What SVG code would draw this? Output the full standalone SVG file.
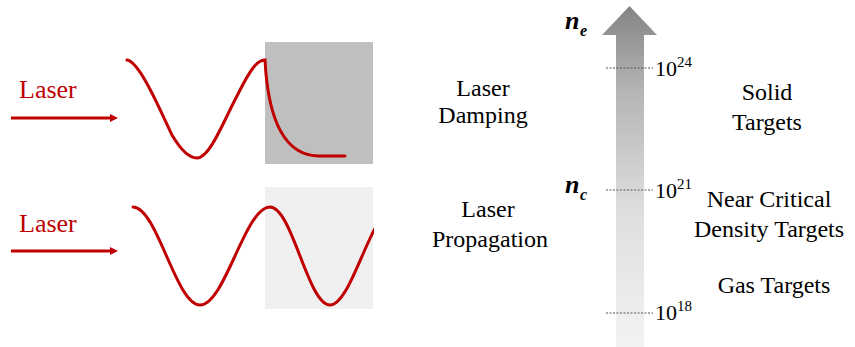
<svg xmlns="http://www.w3.org/2000/svg" width="855" height="347" viewBox="0 0 855 347">
<defs>
  <linearGradient id="g" x1="0" y1="0" x2="0" y2="1">
    <stop offset="0" stop-color="#848484"/>
    <stop offset="0.25" stop-color="#b5b5b5"/>
    <stop offset="0.6" stop-color="#dedede"/>
    <stop offset="1" stop-color="#f3f3f3"/>
  </linearGradient>
  <marker id="ah" markerWidth="8" markerHeight="8" refX="1" refY="4" orient="auto" markerUnits="userSpaceOnUse">
    <path d="M0,0 L8,4 L0,8 Z" fill="#c00000"/>
  </marker>
  <clipPath id="c2"><rect x="0" y="180" width="374" height="140"/></clipPath>
</defs>

<g id="damping-panel">
  <rect x="265" y="42" width="108" height="122" fill="#bfbfbf"/>
  <text x="19" y="98" style="font-family: 'Liberation Serif', serif" font-size="26" fill="#c00000">Laser</text>
  <line x1="11" y1="118" x2="111" y2="118" stroke="#c00000" stroke-width="3" marker-end="url(#ah)"/>
  <path fill="none" stroke="#c00000" stroke-width="3" stroke-linecap="round" d="M127,60 C140,62 160,110 172,135 C182,152 190,158 197,158 C210,158 224,120 238,94 C250,70 257,60 265,60 C268,118 284,155 318,156 L345,156"/>
</g>

<g id="propagation-panel">
  <rect x="265" y="187" width="108" height="122" fill="#f0f0f0"/>
  <text x="19" y="232" style="font-family: 'Liberation Serif', serif" font-size="26" fill="#c00000">Laser</text>
  <line x1="11" y1="251" x2="111" y2="251" stroke="#c00000" stroke-width="3" marker-end="url(#ah)"/>
  <g clip-path="url(#c2)">
    <path fill="none" stroke="#c00000" stroke-width="3" stroke-linecap="round" d="M133,207 C157,207 176,305 200,305 C225,305 245,207 270,207 C292,207 308,305 330,305 C352,305 372,207 395,207"/>
  </g>
</g>

<g id="labels">
  <text x="483" y="96" style="font-family: 'Liberation Serif', serif" font-size="24" text-anchor="middle">Laser</text>
  <text x="483" y="123" style="font-family: 'Liberation Serif', serif" font-size="24" text-anchor="middle">Damping</text>
  <text x="488" y="217" style="font-family: 'Liberation Serif', serif" font-size="24" text-anchor="middle">Laser</text>
  <text x="490" y="247" style="font-family: 'Liberation Serif', serif" font-size="24" text-anchor="middle">Propagation</text>
</g>

<g id="density-axis">
  <polygon points="629.5,6 657,35 644,35 644,347 616,347 616,35 602,35" fill="url(#g)"/>
  <text x="565" y="29" style="font-family: 'Liberation Serif', serif" font-size="26" font-weight="bold" font-style="italic">n</text>
  <text x="580" y="36" style="font-family: 'Liberation Serif', serif" font-size="16" font-weight="bold" font-style="italic">e</text>
  <text x="565" y="193" style="font-family: 'Liberation Serif', serif" font-size="26" font-weight="bold" font-style="italic">n</text>
  <text x="580" y="200" style="font-family: 'Liberation Serif', serif" font-size="16" font-weight="bold" font-style="italic">c</text>
</g>

<g id="connectors" stroke="#555" stroke-width="1" stroke-dasharray="2 1.5">
  <line x1="606" y1="68" x2="653" y2="68"/>
  <line x1="606" y1="190" x2="653" y2="190"/>
  <line x1="606" y1="313" x2="653" y2="313"/>
</g>

<g id="ticks">
  <text x="655" y="76" style="font-family: 'Liberation Serif', serif" font-size="22">10<tspan font-size="15" dy="-9">24</tspan></text>
  <text x="655" y="198" style="font-family: 'Liberation Serif', serif" font-size="22">10<tspan font-size="15" dy="-9">21</tspan></text>
  <text x="655" y="320" style="font-family: 'Liberation Serif', serif" font-size="22">10<tspan font-size="15" dy="-9">18</tspan></text>
</g>

<g id="regions">
  <text x="767" y="100" style="font-family: 'Liberation Serif', serif" font-size="24" text-anchor="middle">Solid</text>
  <text x="767" y="130" style="font-family: 'Liberation Serif', serif" font-size="24" text-anchor="middle">Targets</text>
  <text x="769" y="207" style="font-family: 'Liberation Serif', serif" font-size="24" text-anchor="middle">Near Critical</text>
  <text x="769" y="237" style="font-family: 'Liberation Serif', serif" font-size="24" text-anchor="middle">Density Targets</text>
  <text x="774" y="293" style="font-family: 'Liberation Serif', serif" font-size="24" text-anchor="middle">Gas Targets</text>
</g>
</svg>
